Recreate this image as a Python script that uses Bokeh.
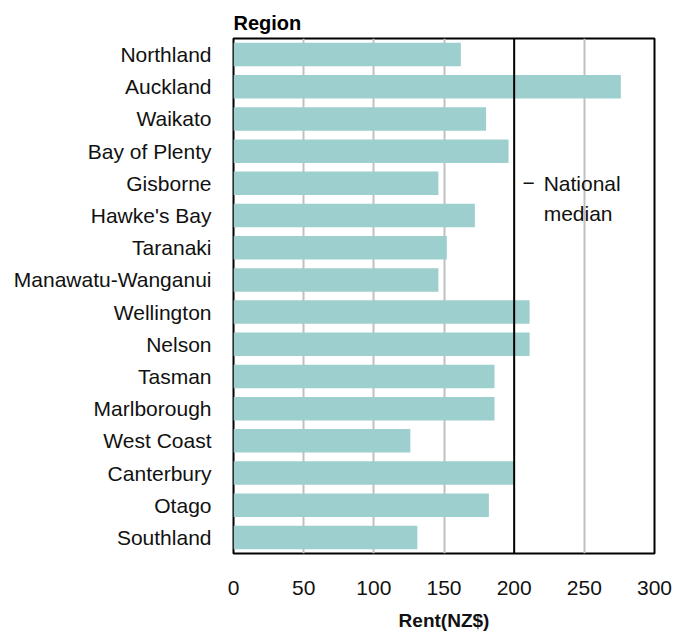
from bokeh.plotting import figure
from bokeh.models import FactorRange, Range1d, FixedTicker, Span, Label, Title, ColumnDataSource
from bokeh.embed import file_html
from bokeh.resources import INLINE

regions = ["Northland", "Auckland", "Waikato", "Bay of Plenty", "Gisborne", "Hawke's Bay",
           "Taranaki", "Manawatu-Wanganui", "Wellington", "Nelson", "Tasman", "Marlborough",
           "West Coast", "Canterbury", "Otago", "Southland"]
rent = [162, 276, 180, 196, 146, 172, 152, 146, 211, 211, 186, 186, 126, 200, 182, 131]
national_median = 200
x_ticks = [0, 50, 100, 150, 200, 250, 300]

FONT = "Liberation Sans"

src = ColumnDataSource(dict(region=regions, rent=rent))

p = figure(width=673, height=637, output_backend="svg", toolbar_location=None,
           y_range=FactorRange(factors=list(reversed(regions)), range_padding=0),
           x_range=Range1d(0, 300),
           min_border_left=233, min_border_right=19, min_border_top=38, min_border_bottom=84)

p.hbar(y="region", right="rent", left=0, height=0.73, source=src,
       fill_color="#9dcfcf", line_color=None)

p.add_layout(Span(location=national_median, dimension="height", line_color="black", line_width=2))

p.outline_line_color = "black"
p.outline_line_width = 2
p.background_fill_color = "white"
p.border_fill_color = "white"

p.ygrid.grid_line_color = None
p.xgrid.ticker = FixedTicker(ticks=[50, 100, 150, 250])
p.xgrid.grid_line_color = "#c0c0c0"
p.xgrid.grid_line_width = 2

p.xaxis.ticker = FixedTicker(ticks=x_ticks)
p.xaxis.axis_line_color = None
p.xaxis.major_tick_line_color = None
p.xaxis.minor_tick_line_color = None
p.xaxis.major_label_standoff = 21
p.xaxis.major_label_text_font = FONT
p.xaxis.major_label_text_font_size = "21px"
p.xaxis.major_label_text_color = "#111111"
p.xaxis.axis_label = "Rent(NZ$)"
p.xaxis.axis_label_text_font = FONT
p.xaxis.axis_label_text_font_size = "19px"
p.xaxis.axis_label_text_font_style = "bold"
p.xaxis.axis_label_text_color = "#111111"
p.xaxis.axis_label_standoff = 12

p.yaxis.axis_line_color = None
p.yaxis.major_tick_line_color = None
p.yaxis.minor_tick_line_color = None
p.yaxis.major_label_standoff = 16
p.yaxis.major_label_text_font = FONT
p.yaxis.major_label_text_font_size = "21px"
p.yaxis.major_label_text_color = "#111111"

p.add_layout(Title(text="Region", align="left", text_font=FONT, text_font_size="20px",
                   text_font_style="bold", text_color="#000000", standoff=10), "above")

# National median annotation
n = len(regions)
gis_y = n - 1 - regions.index("Gisborne") + 0.5
hb_y = n - 1 - regions.index("Hawke's Bay") + 0.5
p.add_layout(Label(x=206, y=gis_y, text="\u2212", text_font=FONT, text_font_size="21px",
                   text_baseline="middle", text_color="#111111"))
p.add_layout(Label(x=221, y=gis_y, text="National", text_font=FONT, text_font_size="21px",
                   text_baseline="middle", text_color="#111111"))
p.add_layout(Label(x=221, y=hb_y + 0.05, text="median", text_font=FONT, text_font_size="21px",
                   text_baseline="middle", text_color="#111111"))

open("out.html", "w").write(file_html(p, INLINE))
